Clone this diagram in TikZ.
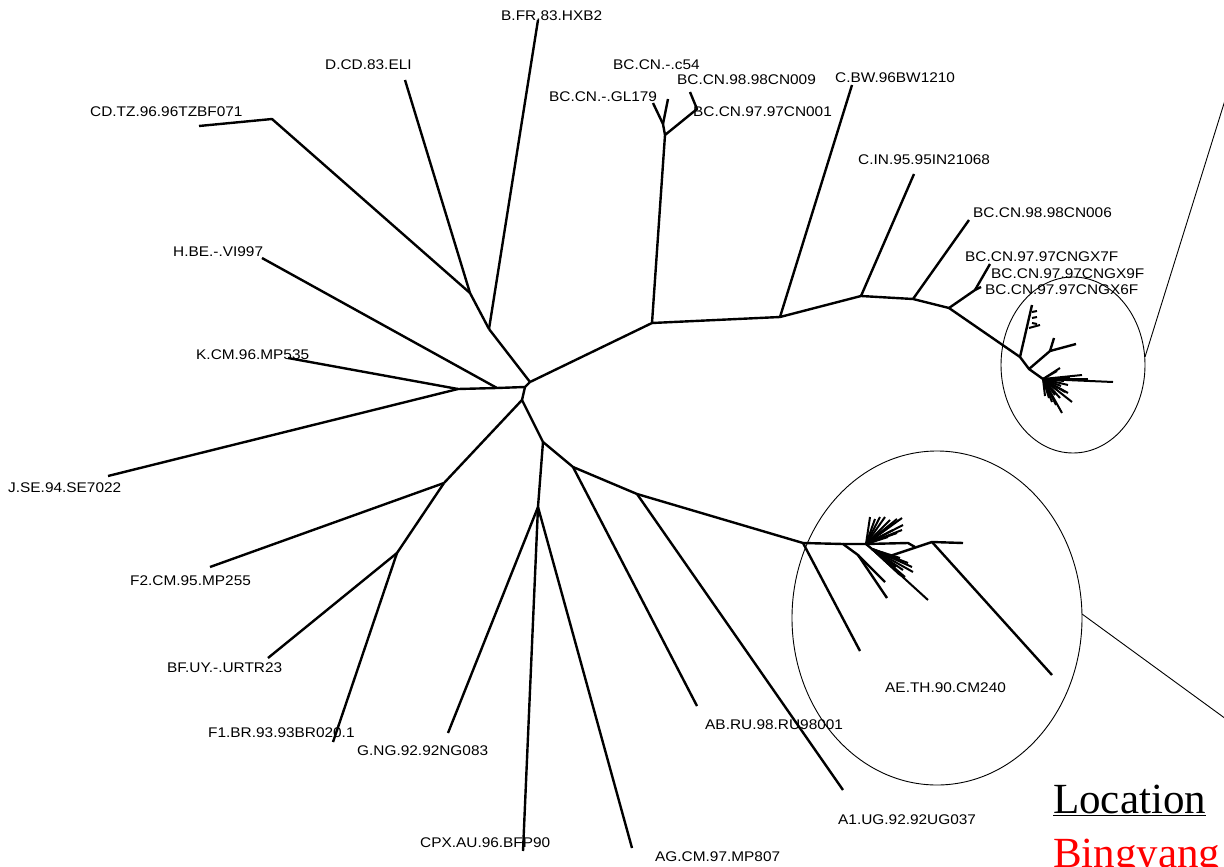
\documentclass[tikz,border=0pt]{standalone}
\usepackage{fontspec}
\setmainfont{Liberation Sans}[FakeStretch=1.1]
\newfontfamily\locfont{Liberation Serif}
\usetikzlibrary{calc}
\definecolor{LocRed}{RGB}{255, 0, 0}

\begin{document}
\begin{tikzpicture}[x=1pt, y=-1pt,
    branch/.style={line width=2.4pt, line join=round},
    twig/.style={line width=2pt},
    clade/.style={line width=0.9pt},
    taxon/.style={anchor=west, inner sep=0pt, font=\fontsize{14}{16}\selectfont}]
    \useasboundingbox (0,0) rectangle (1224,867);

    % Internal nodes of the tree
    \coordinate (c1) at (530,382);
    \coordinate (c2) at (525,387);
    \coordinate (c3) at (522,400);
    \coordinate (ul1) at (489,329);
    \coordinate (ul2) at (470,293);
    \coordinate (tz) at (272,119);
    \coordinate (hb) at (497,388);
    \coordinate (kj) at (458,389);
    \coordinate (fl1) at (444,483);
    \coordinate (fl2) at (397,553);
    \coordinate (dr1) at (543,442);
    \coordinate (gn) at (538,507);
    \coordinate (dr2) at (573,467);
    \coordinate (dr3) at (637,494);
    \coordinate (r1) at (652,323);
    \coordinate (bc1) at (665,135);
    \coordinate (bc2) at (663,124);
    \coordinate (bc3) at (697,109);
    \coordinate (r2) at (780,317);
    \coordinate (r3) at (861,296);
    \coordinate (r4) at (913,299);
    \coordinate (r5) at (949,308);
    \coordinate (gx) at (975,290);

    % Leaf ends
    \coordinate (lbfr) at (538,20);
    \coordinate (lcd) at (405,80);
    \coordinate (ltz) at (199,126);
    \coordinate (lhbe) at (262,258);
    \coordinate (lkcm) at (288,358);
    \coordinate (ljse) at (108,476);
    \coordinate (lf2) at (210,567);
    \coordinate (lbf) at (268,658);
    \coordinate (lf1) at (333,742);
    \coordinate (lgng) at (448,733);
    \coordinate (lcpx) at (523,851);
    \coordinate (lag) at (632,848);
    \coordinate (lab) at (697,706);
    \coordinate (la1) at (843,790);
    \coordinate (lgl) at (653,103);
    \coordinate (lc54) at (668,99);
    \coordinate (l009) at (690,92);
    \coordinate (lbw) at (852,85);
    \coordinate (lin) at (914,174);
    \coordinate (l006) at (969,220);
    \coordinate (lgx7) at (990,264);
    \coordinate (lgx9) at (981,287);

    % Backbone
    \draw[branch] (c1) -- (ul1);
    \draw[branch] (c1) -- (r1);
    \draw[branch] (c1) -- (c2) -- (c3);
    \draw[branch] (c2) -- (hb) -- (kj);
    \draw[branch] (c3) -- (fl1);
    \draw[branch] (c3) -- (dr1);

    % Upper left
    \draw[branch] (ul1) -- (lbfr);
    \draw[branch] (ul1) -- (ul2) -- (lcd);
    \draw[branch] (ul2) -- (tz) -- (ltz);
    \draw[branch] (hb) -- (lhbe);
    \draw[branch] (kj) -- (lkcm);
    \draw[branch] (kj) -- (ljse);

    % Lower left
    \draw[branch] (fl1) -- (lf2);
    \draw[branch] (fl1) -- (fl2) -- (lbf);
    \draw[branch] (fl2) -- (lf1);

    % Lower middle
    \draw[branch] (dr1) -- (gn);
    \draw[branch] (dr1) -- (dr2) -- (dr3);
    \draw[branch] (gn) -- (lgng);
    \draw[branch] (gn) -- (lcpx);
    \draw[branch] (gn) -- (lag);
    \draw[branch] (dr2) -- (lab);
    \draw[branch] (dr3) -- (la1);

    % Right arm
    \draw[branch] (r1) -- (bc1) -- (bc2) -- (lgl);
    \draw[branch] (bc2) -- (lc54);
    \draw[branch] (bc1) -- (bc3) -- (l009);
    \draw[branch] (r1) -- (r2) -- (r3) -- (r4) -- (r5);
    \draw[branch] (r2) -- (lbw);
    \draw[branch] (r3) -- (lin);
    \draw[branch] (r4) -- (l006);
    \draw[branch] (r5) -- (gx) -- (lgx7);
    \draw[branch] (gx) -- (lgx9);

    % Clade in the small circle
    \coordinate (a1) at (1020,357);
    \coordinate (a2) at (1029,369);
    \coordinate (a3) at (1050,351);
    \coordinate (a4) at (1043,379);
    \coordinate (atop) at (1032,305);
    \draw[branch] (r5) -- (a1) -- (atop);
    \draw[branch] (a1) -- (a2) -- (a3) -- (1076,344);
    \draw[branch] (a3) -- (1054,338);
    \draw[branch] (a2) -- (a4);
    \foreach \ya/\yb in {312/311, 318/317, 323/324}
        \draw[twig] ($(atop)+(0,\ya-305)$) -- ++(5,\yb-\ya);
    \draw[twig] (1029,328) -- (1040,325);
    \foreach \p in {(1113,382), (1082,375), (1088,379), (1060,368), (1057,371), (1075,380), (1068,385),
                    (1070,378), (1064,381), (1061,386), (1057,390), (1055,395), (1065,392), (1060,398),
                    (1068,393), (1072,402), (1062,413), (1056,405), (1052,402), (1049,398), (1045,396)}
        \draw[twig] (a4) -- \p;

    % Clade in the large circle
    \coordinate (e1) at (803,543);
    \coordinate (e2) at (843,544);
    \coordinate (e3) at (858,555);
    \coordinate (e4) at (866,544);
    \coordinate (e5) at (908,543);
    \coordinate (e6) at (915,547);
    \coordinate (e7) at (872,549);
    \coordinate (e8) at (890,556);
    \coordinate (e9) at (932,542);
    \draw[branch] (dr3) -- (e1) -- (860,651);
    \draw[branch] (e1) -- (e2) -- (e3) -- (885,582);
    \draw[branch] (e3) -- (887,598);
    \draw[branch] (e2) -- (e4) -- (e5) -- (e6);
    \draw[branch] (e4) -- (e7) -- (e8) -- (e9) -- (963,543);
    \draw[branch] (e9) -- (1052,675);
    \foreach \p in {(870,517), (875,519), (880,517), (885,517), (890,520), (897,519), (894,523),
                    (902,518), (903,525), (902,530), (897,533), (888,537), (893,530)}
        \draw[twig] (e4) -- \p;
    \foreach \p in {(928,600), (913,572), (912,567), (905,577), (900,575), (908,563), (900,558),
                    (903,570), (896,567)}
        \draw[twig] (e7) -- \p;

    % Circles and pointers
    \draw[clade] (1073,365) ellipse [x radius=72pt, y radius=88pt];
    \draw[clade] (937,618) ellipse [x radius=145pt, y radius=167pt];
    \coordinate (p1a) at (1145,357);
    \coordinate (p1b) at (1226,97);
    \coordinate (p2a) at (1082,614);
    \coordinate (p2b) at (1226,719);
    \draw[clade] (p1a) -- (p1b);
    \draw[clade] (p2a) -- (p2b);

    % Labels
    \node[taxon] (tbfr) at (501,16) {B.FR.83.HXB2};
    \node[taxon] (tcd) at (325,65) {D.CD.83.ELI};
    \node[taxon] (ttz) at (90,112) {CD.TZ.96.96TZBF071};
    \node[taxon] (tc54) at (613,65) {BC.CN.-.c54};
    \node[taxon] (t009) at (677,80) {BC.CN.98.98CN009};
    \node[taxon] (tgl) at (549,97) {BC.CN.-.GL179};
    \node[taxon] (t001) at (693,112) {BC.CN.97.97CN001};
    \node[taxon] (tbw) at (835,78) {C.BW.96BW1210};
    \node[taxon] (tin) at (858,160) {C.IN.95.95IN21068};
    \node[taxon] (t006) at (973,213) {BC.CN.98.98CN006};
    \node[taxon] (tgx7) at (965,257) {BC.CN.97.97CNGX7F};
    \node[taxon] (tgx9) at (991,274) {BC.CN.97.97CNGX9F};
    \node[taxon] (tgx6) at (985,290) {BC.CN.97.97CNGX6F};
    \node[taxon] (thbe) at (173,252) {H.BE.-.VI997};
    \node[taxon] (tkcm) at (196,355) {K.CM.96.MP535};
    \node[taxon] (tjse) at (8,488) {J.SE.94.SE7022};
    \node[taxon] (tf2) at (130,581) {F2.CM.95.MP255};
    \node[taxon] (tbf) at (167,668) {BF.UY.-.URTR23};
    \node[taxon] (tf1) at (208,733) {F1.BR.93.93BR020.1};
    \node[taxon] (tgng) at (357,751) {G.NG.92.92NG083};
    \node[taxon] (tcpx) at (420,843) {CPX.AU.96.BFP90};
    \node[taxon] (tag) at (655,857) {AG.CM.97.MP807};
    \node[taxon] (tab) at (705,725) {AB.RU.98.RU98001};
    \node[taxon] (ta1) at (838,820) {A1.UG.92.92UG037};
    \node[taxon] (tae) at (885,688) {AE.TH.90.CM240};

    % Legend
    \node[anchor=base west, inner sep=0pt, font=\locfont\fontsize{43}{48}\selectfont] (loc) at (1053,813) {\underline{Location}};
    \node[anchor=base west, inner sep=0pt, font=\locfont\fontsize{43}{48}\selectfont, text=LocRed] (bing) at (1053,867) {Bingyang};
\end{tikzpicture}
\end{document}
